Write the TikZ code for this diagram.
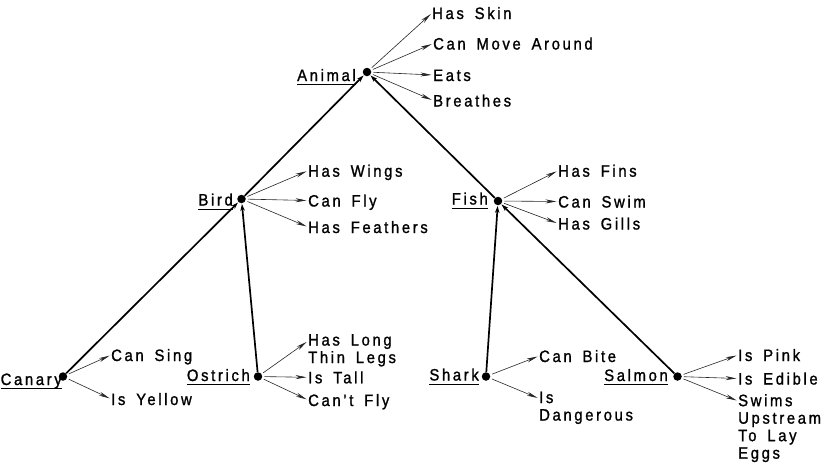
\documentclass[tikz,border=0pt]{standalone}
\usepackage{fontspec}
\setmainfont{Liberation Sans}[LetterSpace=16, WordSpace=1.6, FakeStretch=0.9, FakeBold=1.2]
\usetikzlibrary{arrows.meta}
\begin{document}
\begin{tikzpicture}[x=1pt,y=-1pt,
  lbl/.style={inner sep=0pt, font=\fontsize{16.5}{17}\selectfont, text height=12pt, text depth=0pt},
  mlbl/.style={inner sep=0pt, font=\fontsize{16.5}{17.5}\selectfont, align=left, anchor=north west},
  dot/.style={circle, fill, inner sep=0pt, minimum size=8.5pt},
  isa/.style={line width=1.7pt, -{Stealth[length=7pt,width=4.5pt]}, shorten >=0.5pt},
  prop/.style={line width=0.6pt, draw=black!85, -{Stealth[length=11pt,width=4pt]}, shorten >=1.5pt, shorten <=2pt},
  uline/.style={line width=0.9pt}]
\useasboundingbox (0,0) rectangle (825,464);

% concept dots
\node[dot] (animal) at (367,72) {};
\node[dot] (bird) at (241.5,199) {};
\node[dot] (fish) at (498,201) {};
\node[dot] (canary) at (63,376.5) {};
\node[dot] (ostrich) at (258,376.5) {};
\node[dot] (shark) at (486,376.5) {};
\node[dot] (salmon) at (677.5,376.5) {};

% concept names (underlined)
\node[lbl, anchor=east] (lAnimal) at (356,75) {Animal};
\node[lbl, anchor=east] (lBird) at (233,199.5) {Bird};
\node[lbl, anchor=east] (lFish) at (488,198.5) {Fish};
\node[lbl, anchor=west] (lCanary) at (0.5,379) {Canary};
\node[lbl, anchor=east] (lOstrich) at (250,375) {Ostrich};
\node[lbl, anchor=east] (lShark) at (479,374.5) {Shark};
\node[lbl, anchor=east] (lSalmon) at (668,375) {Salmon};
\foreach \n in {lAnimal,lBird,lFish,lCanary,lOstrich,lShark,lSalmon}
  \draw[uline] ([yshift=-3.5pt]\n.south west) -- ([yshift=-3.5pt]\n.south east);

% isa links
\draw[isa] (canary) -- (bird);
\draw[isa] (bird) -- (animal);
\draw[isa] (fish) -- (animal);
\draw[isa] (ostrich) -- (bird);
\draw[isa] (shark) -- (fish);
\draw[isa] (salmon) -- (fish);

% properties
\node[lbl, anchor=west] (hasskin) at (432,13) {Has Skin};
\node[lbl, anchor=west] (canmove) at (433,43.5) {Can Move Around};
\node[lbl, anchor=west] (eats) at (433,75) {Eats};
\node[lbl, anchor=west] (breathes) at (433,100.5) {Breathes};

\node[lbl, anchor=west] (haswings) at (308,170.7) {Has Wings};
\node[lbl, anchor=west] (canfly) at (308,200.5) {Can Fly};
\node[lbl, anchor=west] (hasfeathers) at (308,227) {Has Feathers};

\node[lbl, anchor=west] (hasfins) at (558,170.7) {Has Fins};
\node[lbl, anchor=west] (canswim) at (558,201.5) {Can Swim};
\node[lbl, anchor=west] (hasgills) at (558,223.5) {Has Gills};

\node[lbl, anchor=west] (cansing) at (111,355) {Can Sing};
\node[lbl, anchor=west] (isyellow) at (111,399) {Is Yellow};

\node[mlbl] (haslong) at (308,334) {Has Long\\Thin Legs};
\node[lbl, anchor=west] (istall) at (308,377.3) {Is Tall};
\node[lbl, anchor=west] (cantfly) at (308,400) {Can't Fly};

\node[lbl, anchor=west] (canbite) at (539,356) {Can Bite};
\node[mlbl] (isdang) at (539,391.5) {Is\\Dangerous};

\node[lbl, anchor=west] (ispink) at (738,355) {Is Pink};
\node[lbl, anchor=west] (isedible) at (738,378.5) {Is Edible};
\node[mlbl] (swims) at (738,394) {Swims\\Upstream\\To Lay\\Eggs};

\coordinate (tLong) at ([yshift=-7pt]haslong.north west);
\coordinate (tDang) at ([yshift=-7pt]isdang.north west);
\coordinate (tSwims) at ([yshift=-7pt]swims.north west);

\foreach \s/\t in {animal/hasskin.west, animal/canmove.west, animal/eats.west, animal/breathes.west,
                   bird/haswings.west, bird/canfly.west, bird/hasfeathers.west,
                   fish/hasfins.west, fish/canswim.west, fish/hasgills.west,
                   canary/cansing.west, canary/isyellow.west,
                   ostrich/tLong, ostrich/istall.west, ostrich/cantfly.west,
                   shark/canbite.west, shark/tDang,
                   salmon/ispink.west, salmon/isedible.west, salmon/tSwims}
  \draw[prop] (\s) -- (\t);
\end{tikzpicture}
\end{document}
